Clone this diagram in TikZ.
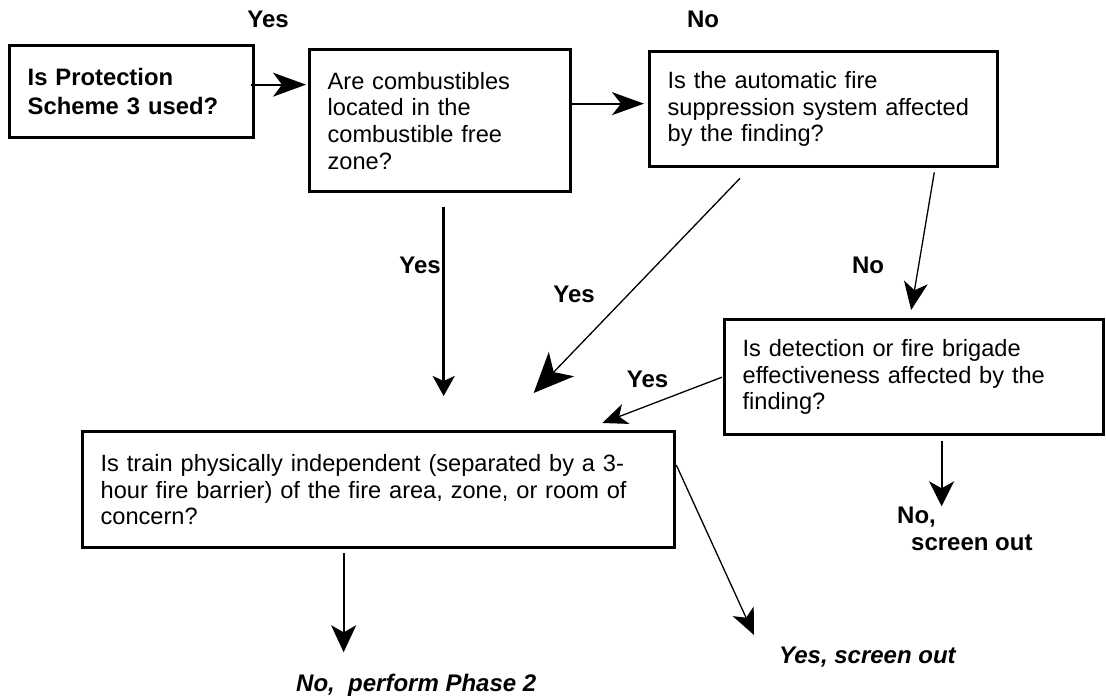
\documentclass[tikz,border=0pt]{standalone}
\usepackage{fontspec}
\setmainfont{Liberation Sans}
\usetikzlibrary{arrows.meta}
\begin{document}
\begin{tikzpicture}[x=1pt,y=-1pt,
  box/.style={draw, line width=3.3pt, rectangle, anchor=north west,
    inner xsep=18pt, inner ysep=0pt, align=left,
    font=\fontsize{23.6}{26.7}\selectfont},
  lbl/.style={inner sep=0pt, font=\fontsize{24}{27}\selectfont\bfseries},
  res/.style={inner sep=0pt, font=\fontsize{24}{27}\selectfont\bfseries\itshape},
  link/.style={line width=1.8pt},
  slim/.style={line width=1.3pt},
  hd/.style n args={3}{-{Stealth[length=#1pt,width=#2pt,inset=#3pt]}},
]
\path[use as bounding box] (0,0) rectangle (1106,697);

% decision boxes
\node[box, text width=208pt, minimum height=92pt,
      font=\fontsize{23.8}{28.5}\selectfont\bfseries] (b1) at (8,44)
  {Is Protection\\Scheme 3 used?};
\node[box, text width=225pt, minimum height=142pt] (b2) at (308,48)
  {Are combustibles\\located in the\\combustible free\\zone?};
\node[box, text width=312pt, minimum height=115pt] (b3) at (648,50)
  {Is the automatic fire\\suppression system affected\\by the finding?};
\node[box, text width=343pt, minimum height=115pt] (b4) at (723,318)
  {Is detection or fire brigade\\effectiveness affected by the\\finding?};
\node[box, text width=556pt, minimum height=116pt] (b5) at (81,430)
  {Is train physically independent (separated by a 3-\\hour fire barrier) of the fire area, zone, or room of\\concern?};

% branch labels and outcomes
\node[lbl, anchor=base] (ly1) at (268,27) {Yes};
\node[lbl, anchor=base] (ln1) at (703,27) {No};
\node[lbl, anchor=base east] (ly2) at (441,273) {Yes};
\node[lbl, anchor=base] (ly3) at (574,302) {Yes};
\node[lbl, anchor=base] (ln2) at (868,273) {No};
\node[lbl, anchor=base] (ly4) at (647.5,387) {Yes};
\node[lbl, anchor=north west, align=left] (lnso) at (897,507)
  {No,\\\hspace*{14pt}screen out};
\node[res, anchor=base west] (lph) at (296,691) {No,\ \ perform Phase 2};
\node[res, anchor=base west] (lyso) at (779,663) {Yes, screen out};

% connectors
\coordinate (s1) at ([shift={(-4,-7)}]b1.east);
\draw[link, hd={33}{24}{9}, shorten >=2pt] (s1) -- (s1 -| b2.west);
\coordinate (s2) at ([shift={(0,-17)}]b2.east);
\draw[link, hd={32}{23}{9}, shorten >=4pt] (s2) -- (s2 -| b3.west);
\draw[slim, hd={40}{35}{11}] ([shift={(92,10)}]b3.south west)
  -- ([shift={(155,-37)}]b5.north);
\draw[slim, hd={28}{24}{8}] ([shift={(-65,4)}]b3.south east)
  -- ([shift={(-3,-8)}]b4.north);
\draw[slim, hd={25}{21}{7}] ([shift={(-1,0)}]b4.west)
  -- ([shift={(-74,-7)}]b5.north east);
\draw[line width=2.6pt, hd={20}{22}{5}] ([shift={(3.5,14)}]b2.south)
  -- ([shift={(65,-34)}]b5.north);
\draw[link, hd={27}{25}{7}] ([shift={(-35,4)}]b5.south)
  -- ([shift={(-35,103)}]b5.south);
\draw[slim, hd={26}{23}{7}] ([shift={(0,35)}]b5.north east)
  -- ([shift={(-25,-28)}]lyso.base west);
\draw[link, hd={25}{25}{7}] ([shift={(27.5,5)}]b4.south)
  -- ([shift={(27.5,70)}]b4.south);
\end{tikzpicture}
\end{document}
